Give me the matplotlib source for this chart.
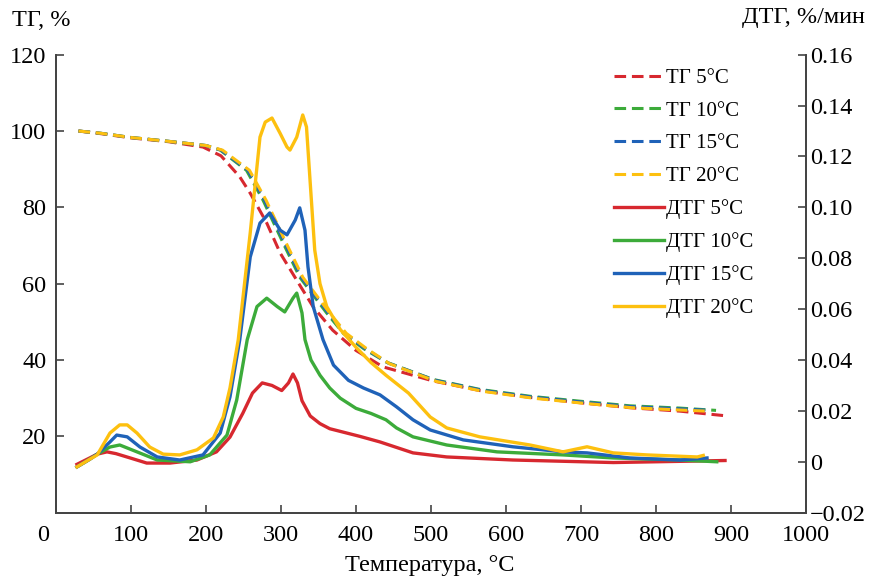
import matplotlib
matplotlib.use('Agg')
import matplotlib.pyplot as plt
import matplotlib.transforms as mtransforms

plt.rcParams['font.family'] = ['Liberation Serif', 'DejaVu Serif']

# TG curves, %
tg5_t = [30, 60, 100, 150, 196, 220, 245, 259, 281, 299, 321, 343, 369, 400, 436, 503, 565, 632, 699, 765, 832, 892]
tg5_v = [100, 99.3, 98.2, 97.2, 95.8, 93.5, 88, 83.7, 75.9, 68, 60.9, 53.9, 47.8, 42.5, 38.2, 34.5, 32, 30.2, 28.8, 27.5, 26.6, 25.4]
tg10_t = [30, 60, 100, 150, 200, 219, 254, 276, 303, 325, 361, 383, 410, 441, 503, 565, 632, 699, 765, 832, 880]
tg10_v = [100, 99.4, 98.3, 97.3, 96.2, 95, 89.7, 81.9, 70.6, 61.7, 52.3, 47, 43, 39.4, 34.9, 32.3, 30.5, 29.2, 28, 27.4, 26.8]
tg15_t = [30, 60, 100, 150, 200, 220, 256, 278, 305, 327, 363, 385, 412, 443, 505, 567, 634, 700, 766, 832, 872]
tg15_v = [100, 99.4, 98.3, 97.3, 96.2, 95, 89.7, 81.9, 70.6, 61.7, 52.3, 47, 43, 39.2, 34.7, 32.1, 30.3, 29.0, 27.8, 27.2, 26.8]
tg20_t = [30, 60, 100, 150, 200, 222, 258, 280, 307, 329, 365, 387, 414, 445, 507, 569, 636, 702, 768, 832, 868]
tg20_v = [100, 99.4, 98.3, 97.3, 96.2, 95, 89.7, 81.9, 70.6, 61.7, 52.3, 47, 43, 39.0, 34.4, 31.8, 30.0, 28.7, 27.5, 26.9, 26.6]

# DTG curves, %/min
dtg5_t = [28, 45, 55, 68, 80, 99, 121, 152, 188, 214, 232, 249, 262, 275, 288, 301, 310, 316, 322, 328, 339, 352, 365, 385, 405, 432, 476, 521, 609, 743, 892]
dtg5_v = [-0.001, 0.0015, 0.003, 0.0039, 0.0032, 0.0015, -0.0005, -0.0005, 0.0007, 0.0039, 0.0097, 0.019, 0.027, 0.031, 0.030, 0.028, 0.031, 0.0345, 0.031, 0.024, 0.018, 0.015, 0.013, 0.0115, 0.010, 0.0078, 0.0035, 0.0019, 0.0007, -0.0003, 0.0005]
dtg10_t = [28, 45, 55, 72, 85, 108, 135, 179, 205, 228, 241, 255, 268, 281, 295, 305, 316, 321, 328, 332, 340, 352, 365, 379, 400, 420, 440, 454, 476, 521, 588, 676, 743, 832, 881]
dtg10_v = [-0.002, 0.001, 0.003, 0.0058, 0.0066, 0.0039, 0.0007, 0.0, 0.0027, 0.0105, 0.0243, 0.048, 0.061, 0.0643, 0.061, 0.0589, 0.0643, 0.0663, 0.0585, 0.048, 0.040, 0.034, 0.029, 0.025, 0.021, 0.019, 0.0165, 0.0133, 0.0098, 0.0066, 0.0039, 0.0027, 0.0015, 0.0007, 0.0]
dtg15_t = [28, 45, 55, 72, 81, 95, 112, 135, 165, 196, 219, 232, 245, 259, 272, 285, 299, 308, 319, 325, 332, 336, 343, 356, 370, 390, 410, 432, 454, 476, 499, 543, 609, 676, 708, 765, 832, 868]
dtg15_v = [-0.002, 0.001, 0.003, 0.0078, 0.0105, 0.0098, 0.0058, 0.0019, 0.0007, 0.0027, 0.0113, 0.0255, 0.0479, 0.0805, 0.0938, 0.0978, 0.091, 0.0892, 0.095, 0.0998, 0.091, 0.0766, 0.061, 0.048, 0.038, 0.032, 0.029, 0.0263, 0.0216, 0.0165, 0.0125, 0.0086, 0.0059, 0.0039, 0.0035, 0.0015, 0.0007, 0.0015]
dtg20_t = [28, 45, 55, 72, 85, 95, 108, 125, 143, 165, 188, 210, 223, 232, 243, 259, 272, 279, 288, 299, 308, 312, 321, 329, 334, 339, 345, 352, 361, 379, 400, 420, 440, 470, 499, 521, 565, 632, 676, 708, 743, 788, 855, 863]
dtg20_v = [-0.002, 0.001, 0.0027, 0.0113, 0.0145, 0.0145, 0.0113, 0.0058, 0.003, 0.0027, 0.0047, 0.0094, 0.0176, 0.029, 0.0479, 0.090, 0.1276, 0.1335, 0.1351, 0.129, 0.1237, 0.1225, 0.1276, 0.1363, 0.1316, 0.1095, 0.0832, 0.070, 0.061, 0.052, 0.045, 0.039, 0.034, 0.027, 0.0176, 0.0133, 0.0098, 0.0066, 0.0039, 0.0059, 0.0035, 0.0027, 0.0019, 0.0025]

labels = ['5°C', '10°C', '15°C', '20°C']
colors = ['#d7282f', '#3cab3a', '#1f62b8', '#fdc00f']

tg_data = [(tg5_t, tg5_v), (tg10_t, tg10_v), (tg15_t, tg15_v), (tg20_t, tg20_v)]
dtg_data = [(dtg5_t, dtg5_v), (dtg10_t, dtg10_v), (dtg15_t, dtg15_v), (dtg20_t, dtg20_v)]

fig = plt.figure(figsize=(8.73, 5.81), dpi=100)
ax1 = fig.add_axes([0.0641, 0.1176, 0.8592, 0.7883])
ax2 = ax1.twinx()

handles = []
for (t, v), lab, c in zip(tg_data, labels, colors):
    h, = ax1.plot(t, v, color=c, lw=2.2, dashes=(3.8, 1.9), label='ТГ ' + lab)
    handles.append(h)
for (t, v), lab, c in zip(dtg_data, labels, colors):
    h, = ax2.plot(t, v, color=c, lw=2.4, label='ДТГ ' + lab)
    handles.append(h)

ax1.set_xlim(0, 1000)
ax1.set_ylim(0, 120)
ax2.set_ylim(-0.02, 0.16)
ax1.set_xticks(range(0, 1001, 100))
ax1.set_yticks(range(20, 121, 20))
ax2.set_yticks([-0.02, 0, 0.02, 0.04, 0.06, 0.08, 0.10, 0.12, 0.14, 0.16])
ax2.set_yticklabels(['\u22120.02', '0', '0.02', '0.04', '0.06', '0.08', '0.10', '0.12', '0.14', '0.16'])

for ax in (ax1, ax2):
    ax.spines['top'].set_visible(False)
    for s in ax.spines.values():
        s.set_color('#444444')
        s.set_linewidth(1.3)
    ax.tick_params(direction='in', length=6, width=1.2, color='#444444', labelsize=17.5)
ax1.tick_params(axis='x', pad=9)
ax1.tick_params(axis='y', pad=7)
ax2.tick_params(axis='y', pad=3)

# first x label sits left of the axis corner
lbl0 = ax1.get_xticklabels()[0]
lbl0.set_transform(lbl0.get_transform() + mtransforms.ScaledTranslation(-0.13, 0, fig.dpi_scale_trans))

fig.text(12 / 873, 1 - 20 / 581, 'ТГ, %', fontsize=17.5, ha='left', va='center')
fig.text(865 / 873, 1 - 18 / 581, 'ДТГ, %/мин', fontsize=17.5, ha='right', va='center')
fig.text(430 / 873, 1 - 566 / 581, 'Температура, °C', fontsize=17.5, ha='center', va='center')

ax2.legend(handles=handles, loc='upper left', bbox_to_anchor=(0.744, 0.97), frameon=False,
           fontsize=15, handlelength=2.4, handletextpad=0.1, labelspacing=0.63, borderpad=0,
           borderaxespad=0)

fig.savefig('out.png', dpi=100)
